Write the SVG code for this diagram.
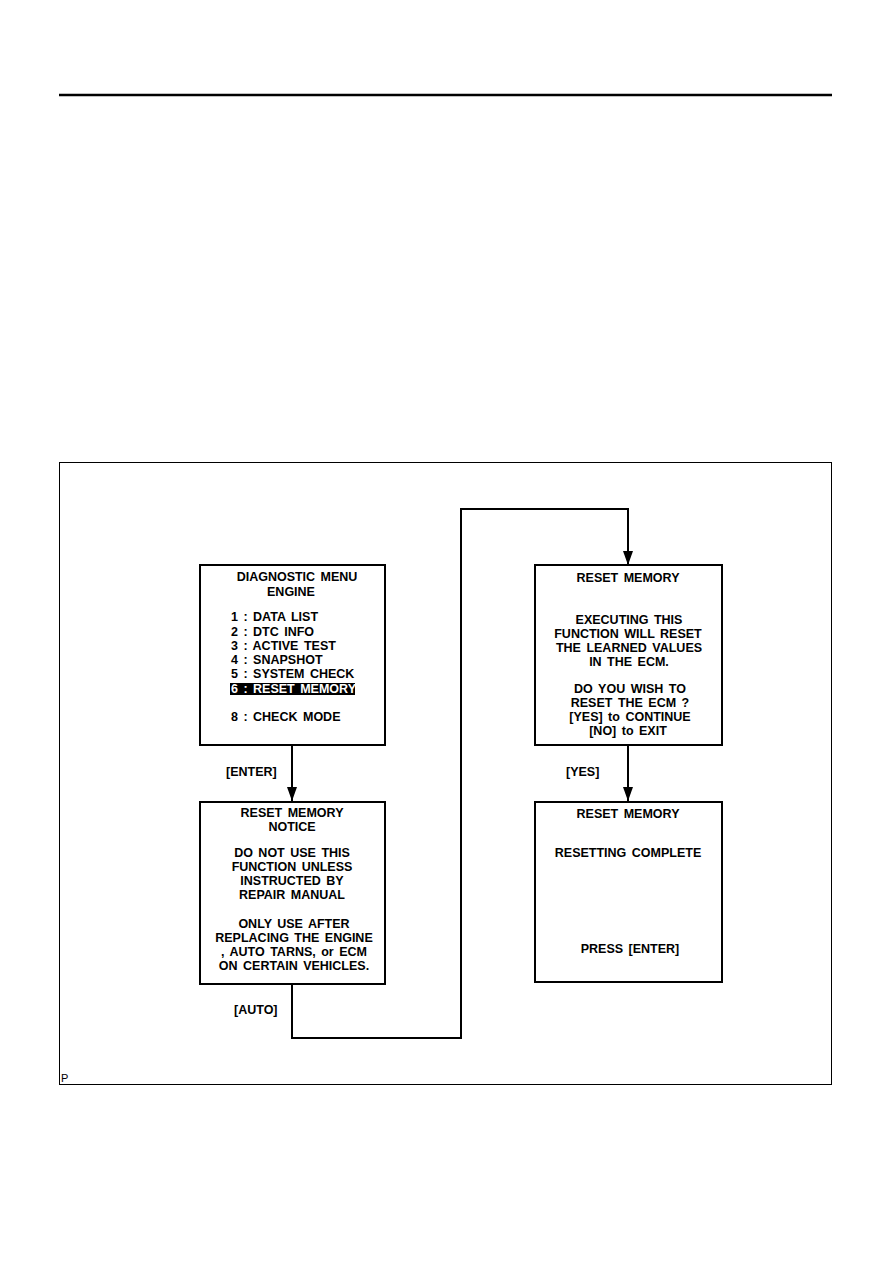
<svg xmlns="http://www.w3.org/2000/svg" width="893" height="1263" viewBox="0 0 893 1263">
<defs>
<style>
.t{font-family:"Liberation Sans",Arial,sans-serif;font-weight:bold;font-size:12.5px;fill:#000;word-spacing:2px}
.c{text-anchor:middle}
.box{fill:#fff;stroke:#000;stroke-width:2}
.conn{fill:none;stroke:#000;stroke-width:2}
</style>
<marker id="arr" markerWidth="14" markerHeight="10" refX="14" refY="5" orient="auto" markerUnits="userSpaceOnUse" viewBox="0 0 14 10">
<path d="M0,0 L14,5 L0,10 Z" fill="#000"/>
</marker>
</defs>
<rect x="0" y="0" width="893" height="1263" fill="#fff"/>
<line x1="59" y1="95" x2="832" y2="95" stroke="#000" stroke-width="2.5"/>
<rect x="59.5" y="462.5" width="772" height="622" fill="none" stroke="#000" stroke-width="1"/>
<text x="61" y="1082" font-family="Liberation Sans,Arial,sans-serif" font-size="11" fill="#000">P</text>

<g id="connectors">
<line class="conn" x1="292" y1="745" x2="292" y2="801" marker-end="url(#arr)"/>
<line class="conn" x1="628" y1="745" x2="628" y2="801" marker-end="url(#arr)"/>
<polyline class="conn" points="292,985 292,1038 461,1038 461,509 628,509 628,565" marker-end="url(#arr)"/>
<text class="t" x="226" y="776">[ENTER]</text>
<text class="t" x="234" y="1014">[AUTO]</text>
<text class="t" x="566" y="776">[YES]</text>
</g>

<g id="node-diagnostic-menu">
<rect class="box" x="200" y="565" width="185" height="180"/>
<text class="t c" x="297" y="581">DIAGNOSTIC MENU</text>
<text class="t c" x="291" y="596">ENGINE</text>
<text class="t" x="231" y="621">1 : DATA LIST</text>
<text class="t" x="231" y="636">2 : DTC INFO</text>
<text class="t" x="231" y="650">3 : ACTIVE TEST</text>
<text class="t" x="231" y="664">4 : SNAPSHOT</text>
<text class="t" x="231" y="678">5 : SYSTEM CHECK</text>
<rect x="230" y="683" width="125" height="12" fill="#000"/>
<text class="t" x="231" y="693" style="fill:#fff">6 : RESET MEMORY</text>
<text class="t" x="231" y="721">8 : CHECK MODE</text>
</g>

<g id="node-notice">
<rect class="box" x="200" y="802" width="185" height="182"/>
<text class="t c" x="292" y="817">RESET MEMORY</text>
<text class="t c" x="292" y="831">NOTICE</text>
<text class="t c" x="292" y="857">DO NOT USE THIS</text>
<text class="t c" x="292" y="871">FUNCTION UNLESS</text>
<text class="t c" x="292" y="885">INSTRUCTED BY</text>
<text class="t c" x="292" y="899">REPAIR MANUAL</text>
<text class="t c" x="294" y="928">ONLY USE AFTER</text>
<text class="t c" x="294" y="942">REPLACING THE ENGINE</text>
<text class="t c" x="294" y="956">, AUTO TARNS, or ECM</text>
<text class="t c" x="294" y="970">ON CERTAIN VEHICLES.</text>
</g>

<g id="node-confirm">
<rect class="box" x="535" y="565" width="187" height="180"/>
<text class="t c" x="628" y="582">RESET MEMORY</text>
<text class="t c" x="629" y="624">EXECUTING THIS</text>
<text class="t c" x="628" y="638">FUNCTION WILL RESET</text>
<text class="t c" x="629" y="652">THE LEARNED VALUES</text>
<text class="t c" x="629" y="666">IN THE ECM.</text>
<text class="t c" x="630" y="693">DO YOU WISH TO</text>
<text class="t c" x="630" y="707">RESET THE ECM ?</text>
<text class="t c" x="630" y="721">[YES] to CONTINUE</text>
<text class="t c" x="628" y="735">[NO] to EXIT</text>
</g>

<g id="node-complete">
<rect class="box" x="535" y="802" width="187" height="180"/>
<text class="t c" x="628" y="818">RESET MEMORY</text>
<text class="t c" x="628" y="857">RESETTING COMPLETE</text>
<text class="t c" x="630" y="953">PRESS [ENTER]</text>
</g>
</svg>
